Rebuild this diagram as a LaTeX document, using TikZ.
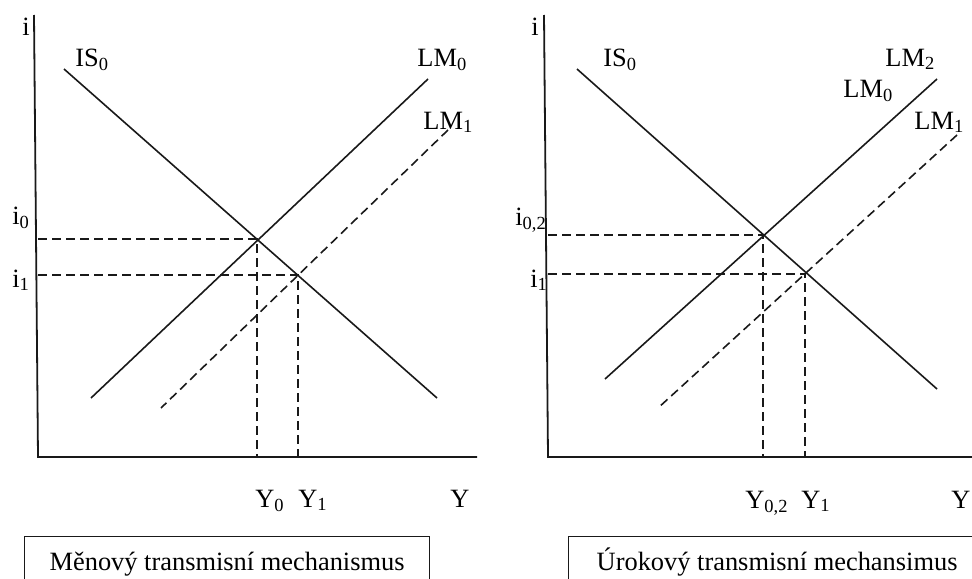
\documentclass[tikz,border=0pt]{standalone}
\usepackage{fontspec}
\setmainfont{Liberation Serif}
\definecolor{primary}{RGB}{25,25,25}
\tikzset{
  axisline/.style={primary,line width=0.9pt},
  curve/.style={primary,line width=0.8pt},
  shifted/.style={primary,line width=0.8pt,dash pattern=on 4.5pt off 2.5pt},
  guide/.style={primary,line width=0.7pt,dash pattern=on 4.5pt off 2.5pt},
  lbl/.style={anchor=base west,inner sep=0pt,font=\fontsize{13.2}{15}\selectfont},
  capbox/.style={draw=primary,line width=0.6pt,anchor=north west,inner xsep=0pt,inner ysep=8pt,
    text height=9pt,text depth=3pt,align=center,font=\fontsize{13.2}{15}\selectfont},
}

\begin{document}
\begin{tikzpicture}[x=0.5pt,y=-0.5pt]
\clip (0,0) rectangle (972,578);
% left panel: money channel
\coordinate (lT) at (34,15); \coordinate (lO) at (38,457); \coordinate (lR) at (477,457);
\draw[axisline] (lT) -- (lO) -- (lR);
\coordinate (lISa) at (64,69);   \coordinate (lISb) at (437,398);
\coordinate (lLMa) at (428,79);  \coordinate (lLMb) at (91,398);
\coordinate (lLNa) at (448,130); \coordinate (lLNb) at (161,408);
\coordinate (lE0) at (257,239);  \coordinate (lE1) at (298,275);
\draw[curve] (lISa) -- (lISb);
\draw[curve] (lLMa) -- (lLMb);
\draw[shifted] (lLNa) -- (lLNb);
\draw[guide] (lE0 -| lO) -- (lE0) -- (lE0 |- lO);
\draw[guide] (lE1 -| lO) -- (lE1) -- (lE1 |- lO);
\node[lbl] (li) at (22,35) {i};
\node[lbl] (lis) at (75,66) {IS\textsubscript{0}};
\node[lbl] (llm0) at (417,66) {LM\textsubscript{0}};
\node[lbl] (llm1) at (423,129) {LM\textsubscript{1}};
\node[lbl] (li0) at (12,224) {i\textsubscript{0}};
\node[lbl] (li1) at (12,287) {i\textsubscript{1}};
\node[lbl] (ly0) at (255,507) {Y\textsubscript{0}};
\node[lbl] (ly1) at (298,507) {Y\textsubscript{1}};
\node[lbl] (ly) at (450,507) {Y};
\node[capbox,minimum width=202.5pt] (lcap) at (24,536) {Měnový transmisní mechanismus};
% right panel: interest channel
\coordinate (rT) at (544,15); \coordinate (rO) at (548,457); \coordinate (rR) at (975,457);
\draw[axisline] (rT) -- (rO) -- (rR);
\coordinate (rISa) at (577,69);  \coordinate (rISb) at (937,389);
\coordinate (rLMa) at (937,79);  \coordinate (rLMb) at (605,379);
\coordinate (rLNa) at (957,135); \coordinate (rLNb) at (658,408);
\coordinate (rE0) at (763,235);  \coordinate (rE1) at (805,274);
\draw[curve] (rISa) -- (rISb);
\draw[curve] (rLMa) -- (rLMb);
\draw[shifted] (rLNa) -- (rLNb);
\draw[guide] (rE0 -| rO) -- (rE0) -- (rE0 |- rO);
\draw[guide] (rE1 -| rO) -- (rE1) -- (rE1 |- rO);
\node[lbl] (ri) at (531,35) {i};
\node[lbl] (ris) at (603,66) {IS\textsubscript{0}};
\node[lbl] (rlm2) at (885,66) {LM\textsubscript{2}};
\node[lbl] (rlm0) at (843,97) {LM\textsubscript{0}};
\node[lbl] (rlm1) at (914,129) {LM\textsubscript{1}};
\node[lbl] (ri02) at (515,225) {i\textsubscript{0,2}};
\node[lbl] (ri1) at (530,287) {i\textsubscript{1}};
\node[lbl] (ry02) at (745,508) {Y\textsubscript{0,2}};
\node[lbl] (ry1) at (801,508) {Y\textsubscript{1}};
\node[lbl] (ry) at (951,508) {Y};
\node[capbox,minimum width=208.5pt] (rcap) at (568,536) {Úrokový transmisní mechansimus};
\end{tikzpicture}
\end{document}
